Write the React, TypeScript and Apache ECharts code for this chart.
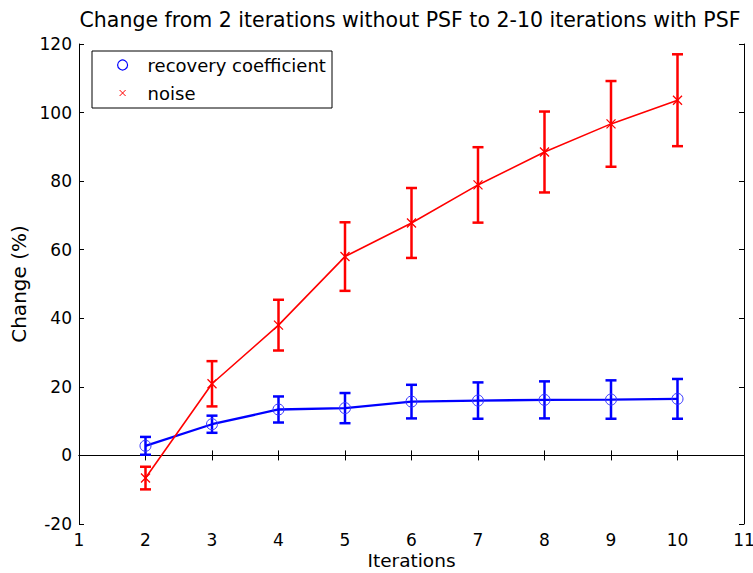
import React, { useEffect, useRef } from "react";
import * as echarts from "echarts";

const iterations = [2, 3, 4, 5, 6, 7, 8, 9, 10];
const rcMean = [2.8, 9.1, 13.4, 13.8, 15.7, 16.0, 16.2, 16.3, 16.5];
const rcErr = [2.6, 2.5, 3.8, 4.4, 4.9, 5.3, 5.4, 5.6, 5.8];
const noiseMean = [-6.6, 20.9, 38.0, 58.0, 67.8, 78.9, 88.5, 96.7, 103.6];
const noiseErr = [3.3, 6.6, 7.4, 10.0, 10.2, 11.0, 11.8, 12.5, 13.4];

const xTicks = [1, 11, 1];
const yTicks = [-20, 120, 20];

const FONT = "'DejaVu Sans', Arial, sans-serif";
const X_PATH = "path://M0,0L10,10M10,0L0,10";
const X_LEGEND_PATH = "path://M-2,-2M0,0L6,6M6,0L0,6M8,8";

function errData(mean: number[], err: number[]) {
  return iterations.map((x, i) => [x, mean[i] - err[i], mean[i] + err[i]]);
}

function errSeries(name: string, color: string, mean: number[], err: number[], z: number) {
  return {
    type: "custom",
    name,
    z,
    data: errData(mean, err),
    encode: { x: 0, y: [1, 2] },
    renderItem: (params: any, api: any) => {
      const x = api.value(0);
      const lo = api.coord([x, api.value(1)]);
      const hi = api.coord([x, api.value(2)]);
      const w = 5.5;
      const style = { stroke: color, lineWidth: 2.5, fill: null };
      return {
        type: "group",
        children: [
          { type: "line", shape: { x1: lo[0], y1: lo[1], x2: hi[0], y2: hi[1] }, style },
          { type: "line", shape: { x1: lo[0] - w, y1: lo[1], x2: lo[0] + w, y2: lo[1] }, style },
          { type: "line", shape: { x1: hi[0] - w, y1: hi[1], x2: hi[0] + w, y2: hi[1] }, style },
        ],
      };
    },
  };
}

export default function App() {
  const ref = useRef<HTMLDivElement>(null);
  useEffect(() => {
    if (!ref.current) return;
    const chart = echarts.init(ref.current, null, { renderer: "svg" });
    const axisCommon = {
      axisLine: { show: true, lineStyle: { color: "#000", width: 1 } },
      axisTick: { show: true, inside: true, length: 5, lineStyle: { color: "#000" } },
      splitLine: { show: false },
    };
    chart.setOption({
      animation: false,
      backgroundColor: "#fff",
      title: {
        text: "Change from 2 iterations without PSF to 2-10 iterations with PSF",
        left: 405,
        textAlign: "center",
        top: 4,
        textStyle: { fontFamily: FONT, fontSize: 20.5, fontWeight: "normal", color: "#000" },
      },
      grid: { left: 79, right: 9, top: 44, bottom: 49, containLabel: false, outerBoundsMode: "none" },
      xAxis: [
        {
          type: "value",
          min: xTicks[0],
          max: xTicks[1],
          interval: xTicks[2],
          name: "Iterations",
          nameLocation: "middle",
          nameGap: 27,
          nameMoveOverlap: false,
          nameTextStyle: { fontFamily: FONT, fontSize: 18.5, color: "#000" },
          axisLabel: { fontFamily: FONT, fontSize: 17, color: "#000", margin: 7 },
          ...axisCommon,
        },
        {
          type: "value",
          position: "top",
          min: xTicks[0],
          max: xTicks[1],
          interval: xTicks[2],
          axisLabel: { show: false },
          ...axisCommon,
        },
      ],
      yAxis: [
        {
          type: "value",
          min: yTicks[0],
          max: yTicks[1],
          interval: yTicks[2],
          name: "Change (%)",
          nameLocation: "middle",
          nameGap: 47,
          nameTextStyle: { fontFamily: FONT, fontSize: 20, color: "#000" },
          axisLabel: { fontFamily: FONT, fontSize: 17, color: "#000", margin: 7 },
          ...axisCommon,
        },
        {
          type: "value",
          position: "right",
          min: yTicks[0],
          max: yTicks[1],
          interval: yTicks[2],
          axisLabel: { show: false },
          ...axisCommon,
        },
      ],
      legend: {
        orient: "vertical",
        left: 112,
        top: 51,
        itemWidth: 10,
        itemHeight: 10,
        itemGap: 10,
        z: 6,
        lineStyle: { opacity: 0 },
        textStyle: { fontFamily: FONT, fontSize: 18, color: "#000", padding: [0, 0, 0, 15] },
        data: [
          {
            name: "recovery coefficient",
            icon: "circle",
            itemStyle: { color: "rgba(0,0,0,0)", borderColor: "#00f", borderWidth: 1.2 },
          },
          {
            name: "noise",
            icon: X_LEGEND_PATH,
            itemStyle: { color: "#f00", borderColor: "#f00", borderWidth: 1 },
          },
        ],
      },
      graphic: [
        {
          type: "rect",
          z: 5,
          shape: { x: 92, y: 51, width: 240, height: 57 },
          style: { fill: "#fff", stroke: "#000", lineWidth: 1 },
        },
      ],
      series: [
        {
          type: "line",
          name: "recovery coefficient",
          z: 3,
          data: iterations.map((x, i) => [x, rcMean[i]]),
          symbol: "circle",
          symbolSize: 11,
          lineStyle: { color: "#00f", width: 2.3 },
          itemStyle: { color: "rgba(0,0,0,0)", borderColor: "#33f", borderWidth: 1 },
        },
        errSeries("rc error", "#00f", rcMean, rcErr, 3),
        {
          type: "line",
          name: "noise",
          z: 4,
          data: iterations.map((x, i) => [x, noiseMean[i]]),
          symbol: X_PATH,
          symbolSize: 9,
          lineStyle: { color: "#f00", width: 1.6 },
          itemStyle: { color: "#f00", borderColor: "#f00", borderWidth: 1.3 },
        },
        errSeries("noise error", "#f00", noiseMean, noiseErr, 4),
      ],
    });
    return () => chart.dispose();
  }, []);
  return <div ref={ref} style={{ width: 753, height: 573, position: "absolute", left: 0, top: 0 }} />;
}
